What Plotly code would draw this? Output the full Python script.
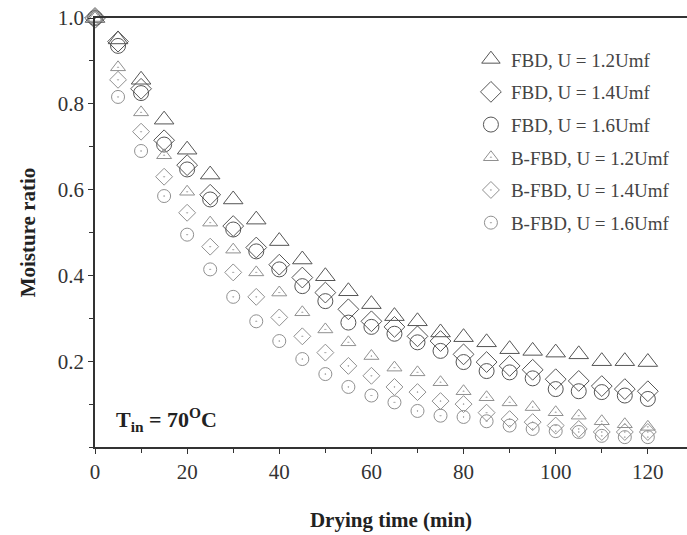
import plotly.graph_objects as go

time_min = [0, 5, 10, 15, 20, 25, 30, 35, 40, 45, 50, 55, 60, 65, 70, 75, 80, 85, 90, 95, 100, 105, 110, 115, 120]

fbd_12 = [1.0, 0.95, 0.856, 0.763, 0.693, 0.635, 0.577, 0.53, 0.48, 0.437, 0.398, 0.363, 0.333, 0.305, 0.293, 0.267,
          0.256, 0.244, 0.228, 0.224, 0.22, 0.216, 0.20, 0.20, 0.198]
fbd_14 = [1.0, 0.945, 0.835, 0.715, 0.657, 0.588, 0.515, 0.465, 0.425, 0.395, 0.36, 0.321, 0.293, 0.28, 0.258, 0.247,
          0.216, 0.198, 0.189, 0.18, 0.158, 0.154, 0.142, 0.135, 0.13]
fbd_16 = [1.0, 0.935, 0.825, 0.705, 0.647, 0.577, 0.507, 0.456, 0.414, 0.375, 0.34, 0.29, 0.28, 0.264, 0.244, 0.224,
          0.198, 0.177, 0.174, 0.16, 0.135, 0.13, 0.128, 0.12, 0.112]
bfbd_12 = [1.0, 0.885, 0.78, 0.68, 0.595, 0.523, 0.46, 0.407, 0.36, 0.314, 0.274, 0.244, 0.212, 0.185, 0.174, 0.151,
           0.13, 0.116, 0.104, 0.093, 0.081, 0.073, 0.06, 0.053, 0.047]
bfbd_14 = [1.0, 0.856, 0.735, 0.63, 0.546, 0.467, 0.407, 0.35, 0.302, 0.258, 0.22, 0.189, 0.166, 0.14, 0.128, 0.107,
           0.10, 0.08, 0.065, 0.058, 0.05, 0.042, 0.035, 0.035, 0.035]
bfbd_16 = [1.0, 0.816, 0.69, 0.585, 0.495, 0.414, 0.35, 0.293, 0.247, 0.205, 0.17, 0.14, 0.12, 0.104, 0.084, 0.073,
           0.07, 0.06, 0.05, 0.042, 0.037, 0.035, 0.026, 0.023, 0.023]

series_names = ["FBD, U = 1.2Umf", "FBD, U = 1.4Umf", "FBD, U = 1.6Umf",
                "B-FBD, U = 1.2Umf", "B-FBD, U = 1.4Umf", "B-FBD, U = 1.6Umf"]
series_values = [fbd_12, fbd_14, fbd_16, bfbd_12, bfbd_14, bfbd_16]

symbols = ["triangle-up-open", "diamond-open", "circle-open",
           "triangle-up-open-dot", "diamond-open-dot", "circle-open-dot"]
sizes = [17, 16, 15, 13, 13, 13]
colors = ["#555555", "#555555", "#555555", "#909090", "#909090", "#909090"]

FONT = "Liberation Serif, Times New Roman, serif"

fig = go.Figure()
for i, (name, vals, sym, sz, col) in enumerate(zip(series_names, series_values, symbols, sizes, colors)):
    fig.add_trace(go.Scatter(
        x=time_min, y=vals, mode="markers", name=name, legendgroup=f"g{i}",
        marker=dict(symbol=sym, size=sz, color=col, line=dict(width=1, color=col)),
        cliponaxis=False,
    ))

fig.update_layout(
    width=687, height=535,
    margin=dict(l=95, r=0, t=18, b=88, autoexpand=False),
    paper_bgcolor="white", plot_bgcolor="white",
    font=dict(family=FONT, size=20, color="#333333"),
    showlegend=True,
    legend=dict(
        x=0.635, y=0.948, xanchor="left", yanchor="top",
        bgcolor="rgba(0,0,0,0)", borderwidth=0,
        font=dict(family=FONT, size=19, color="#444444"),
        itemsizing="trace", tracegroupgap=5,
        itemwidth=30,
    ),
    annotations=[dict(
        x=4.2, y=0.065, xref="x", yref="y", xanchor="left", yanchor="middle",
        text="<b>T<sub>in</sub> = 70<sup>O</sup>C</b>", showarrow=False,
        font=dict(family=FONT, size=22, color="#222222"),
    )],
)

fig.update_xaxes(
    range=[0, 128.5], showgrid=False, zeroline=False, automargin=False,
    showline=True, linecolor="#333333", linewidth=1.5, mirror=True,
    ticks="outside", ticklen=5, tickcolor="#333333", ticklabeloverflow="allow",
    tickvals=[0, 20, 40, 60, 80, 100, 120],
    tickfont=dict(family=FONT, size=21, color="#333333"),
    minor=dict(tickvals=[10, 30, 50, 70, 90, 110], ticks="outside", ticklen=4, tickcolor="#333333"),
    title=dict(text="<b>Drying time (min)</b>", font=dict(family=FONT, size=21, color="#222222"), standoff=29),
)
fig.update_yaxes(
    range=[0, 1.0], showgrid=False, zeroline=False, automargin=False,
    showline=True, linecolor="#333333", linewidth=1.5,
    ticks="outside", ticklen=5, tickcolor="#333333", ticklabeloverflow="allow",
    tickvals=[0.2, 0.4, 0.6, 0.8, 1.0], ticktext=["0.2", "0.4", "0.6", "0.8", "1.0"],
    tickfont=dict(family=FONT, size=21, color="#333333"),
    minor=dict(tickvals=[0.0, 0.1, 0.3, 0.5, 0.7, 0.9], ticks="outside", ticklen=4, tickcolor="#333333"),
    title=dict(text="<b>Moisture ratio</b>", font=dict(family=FONT, size=21, color="#222222"), standoff=16),
)

# remove the page's default 8px body margin so the figure fills the window exactly
fig.write_html("out.html", config={"displayModeBar": False},
               post_script="document.body.style.margin='0';")
